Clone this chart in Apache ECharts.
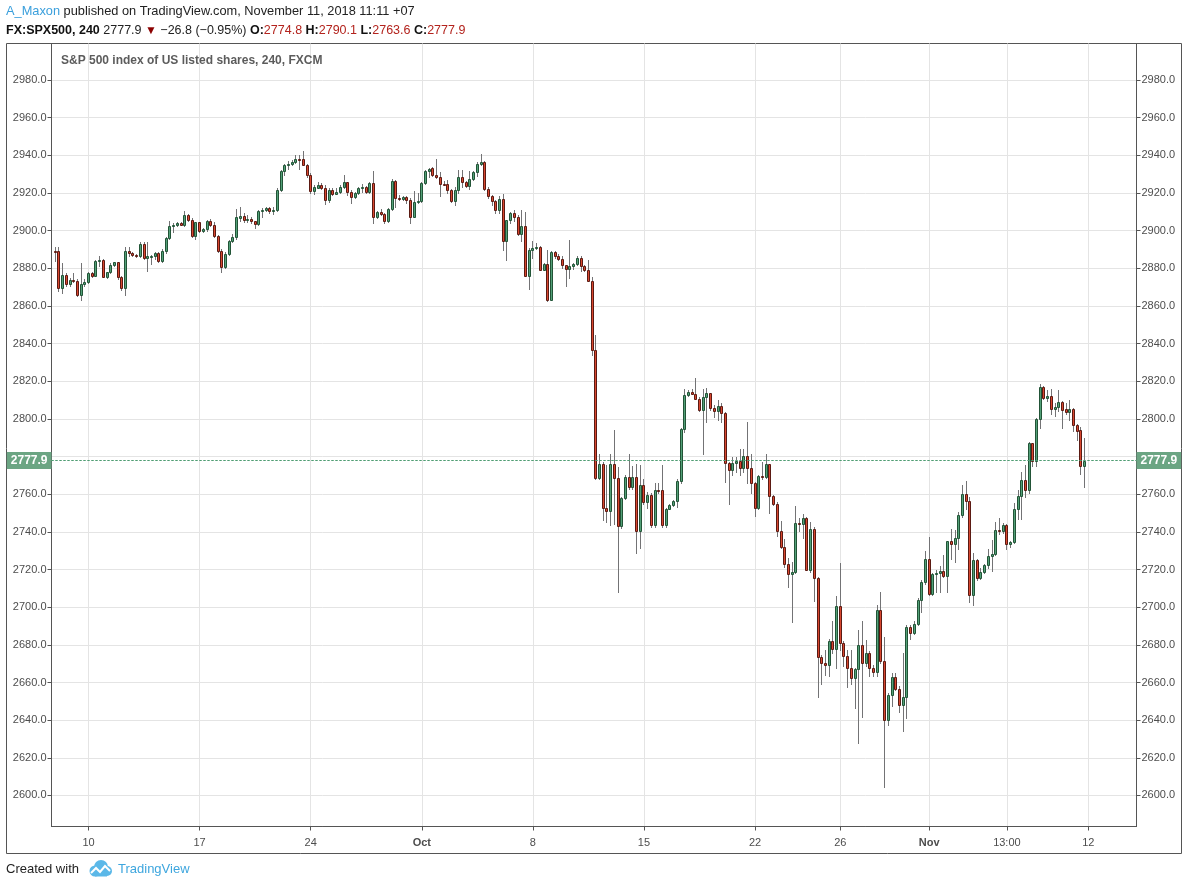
<!DOCTYPE html>
<html lang="en">
<head>
<meta charset="utf-8">
<title>FX:SPX500, 240</title>
<script src="https://cdn.jsdelivr.net/npm/echarts@6/dist/echarts.min.js"></script>
<style>
  html, body { margin: 0; padding: 0; background: #fff; }
  #chart { width: 1188px; height: 887px; }
</style>
</head>
<body>
<div id="chart"></div>
<script>
// 240 min bars, bar 1 .. 279 (Sep 7 -> Nov 9, 2018)
var opens = [
  2889.2, 2889.0, 2869.4, 2876.5, 2871.5, 2873.8, 2873.1, 2866.0, 2871.5, 2872.6,
  2877.5, 2876.1, 2883.9, 2884.4, 2875.6, 2877.9, 2881.8, 2883.2, 2875.6, 2869.4,
  2889.0, 2888.0, 2887.3, 2886.4, 2892.7, 2885.5, 2886.4, 2886.7, 2888.0, 2883.7,
  2889.4, 2895.9, 2902.3, 2903.0, 2904.1, 2903.2, 2908.3, 2905.8, 2897.3, 2904.4,
  2900.0, 2900.7, 2905.3, 2903.0, 2897.3, 2889.4, 2880.9, 2887.6, 2894.5, 2896.6,
  2906.9, 2907.6, 2905.6, 2906.1, 2904.9, 2903.5, 2910.5, 2911.1, 2911.8, 2910.2,
  2910.9, 2921.6, 2931.6, 2934.7, 2935.6, 2936.5, 2937.9, 2937.9, 2935.1, 2929.8,
  2921.2, 2922.8, 2924.0, 2922.8, 2916.3, 2921.4, 2919.6, 2920.5, 2923.2, 2925.6,
  2920.4, 2917.7, 2919.8, 2922.8, 2923.2, 2920.7, 2925.3, 2907.0, 2909.8, 2908.8,
  2904.9, 2911.4, 2926.3, 2917.2, 2916.8, 2917.7, 2916.1, 2907.5, 2915.1, 2915.8,
  2925.3, 2931.6, 2933.3, 2929.4, 2928.3, 2925.0, 2924.6, 2921.8, 2915.6, 2921.8,
  2928.3, 2925.7, 2923.5, 2927.6, 2931.2, 2935.4, 2936.3, 2922.3, 2918.2, 2915.6,
  2911.2, 2917.0, 2894.3, 2905.5, 2909.4, 2907.1, 2898.4, 2902.3, 2876.1, 2889.6,
  2890.8, 2891.3, 2879.3, 2882.3, 2863.4, 2888.7, 2886.4, 2885.1, 2881.6, 2879.8,
  2881.1, 2882.3, 2885.5, 2881.1, 2879.3, 2873.5, 2836.5, 2768.7, 2776.3, 2752.7,
  2751.2, 2775.8, 2768.7, 2743.2, 2758.2, 2769.2, 2763.9, 2769.2, 2740.5, 2765.1,
  2755.9, 2759.8, 2743.5, 2762.5, 2762.1, 2743.5, 2752.4, 2754.5, 2756.3, 2767.1,
  2794.9, 2812.9, 2814.3, 2813.3, 2810.8, 2804.8, 2811.7, 2813.5, 2805.8, 2804.4,
  2806.9, 2803.4, 2776.6, 2773.1, 2776.6, 2777.7, 2774.0, 2780.2, 2774.0, 2765.7,
  2752.7, 2769.7, 2769.4, 2775.8, 2759.1, 2755.0, 2740.5, 2732.2, 2722.8, 2717.5,
  2718.6, 2744.6, 2744.1, 2747.6, 2719.8, 2741.4, 2715.4, 2673.5, 2670.6, 2669.2,
  2681.9, 2677.7, 2700.4, 2680.9, 2673.8, 2667.6, 2662.3, 2667.1, 2680.0, 2670.3,
  2675.6, 2667.6, 2665.5, 2698.6, 2671.2, 2640.2, 2653.5, 2662.8, 2656.5, 2648.0,
  2652.2, 2689.7, 2686.5, 2691.2, 2703.9, 2713.3, 2725.5, 2706.9, 2717.5, 2718.1,
  2719.3, 2716.8, 2734.9, 2733.5, 2736.6, 2749.0, 2760.1, 2756.2, 2706.3, 2725.2,
  2715.7, 2718.7, 2722.6, 2727.1, 2728.4, 2741.1, 2740.7, 2743.7, 2733.3, 2734.5,
  2752.2, 2758.9, 2767.5, 2762.4, 2787.1, 2777.4, 2800.1, 2817.0, 2811.2, 2812.4,
  2805.4, 2806.3, 2809.1, 2805.0, 2803.8, 2805.0, 2796.7, 2793.9, 2774.8
];
var closes = [
  2889.0, 2869.4, 2876.5, 2871.5, 2873.8, 2873.1, 2866.0, 2871.5, 2872.6, 2877.5,
  2876.1, 2883.9, 2884.4, 2875.6, 2877.9, 2881.8, 2883.2, 2875.6, 2869.4, 2889.0,
  2888.0, 2887.3, 2886.4, 2892.7, 2885.5, 2886.4, 2886.7, 2888.0, 2883.7, 2889.4,
  2895.9, 2902.3, 2903.0, 2904.1, 2903.2, 2908.3, 2905.8, 2897.3, 2904.4, 2900.0,
  2900.7, 2905.3, 2903.0, 2897.3, 2889.4, 2880.9, 2887.6, 2894.5, 2896.6, 2907.1,
  2907.6, 2905.6, 2906.1, 2904.9, 2903.5, 2910.5, 2911.1, 2911.8, 2910.2, 2910.9,
  2921.6, 2931.6, 2934.7, 2935.6, 2936.5, 2937.9, 2937.5, 2935.1, 2929.8, 2921.2,
  2923.2, 2924.0, 2922.8, 2916.3, 2921.4, 2919.6, 2920.5, 2923.2, 2925.6, 2920.4,
  2917.7, 2919.8, 2922.8, 2923.2, 2920.7, 2925.3, 2907.0, 2909.8, 2908.8, 2904.9,
  2911.4, 2926.3, 2917.2, 2916.8, 2917.7, 2916.1, 2907.5, 2915.1, 2915.8, 2925.3,
  2931.6, 2933.0, 2929.4, 2928.3, 2925.0, 2924.6, 2921.8, 2915.6, 2921.8, 2928.3,
  2925.7, 2923.5, 2927.6, 2931.2, 2935.4, 2936.3, 2922.3, 2918.2, 2915.6, 2911.2,
  2917.0, 2894.3, 2905.5, 2909.4, 2907.1, 2898.4, 2902.3, 2876.1, 2889.6, 2890.8,
  2891.3, 2879.3, 2882.3, 2863.4, 2888.7, 2886.4, 2885.1, 2881.6, 2879.8, 2881.1,
  2882.3, 2885.5, 2881.1, 2879.3, 2873.5, 2836.5, 2768.7, 2776.3, 2752.7, 2751.2,
  2775.8, 2768.7, 2743.2, 2758.2, 2769.2, 2763.9, 2769.2, 2740.5, 2765.1, 2755.9,
  2759.8, 2743.5, 2762.5, 2762.1, 2743.5, 2752.4, 2754.5, 2756.3, 2767.1, 2794.9,
  2812.9, 2814.3, 2813.3, 2810.8, 2804.8, 2811.7, 2813.5, 2805.8, 2804.4, 2806.9,
  2803.4, 2776.6, 2773.1, 2776.6, 2777.7, 2774.0, 2780.2, 2774.0, 2765.7, 2752.7,
  2769.7, 2769.4, 2775.8, 2759.1, 2755.0, 2740.5, 2732.2, 2722.8, 2717.5, 2718.6,
  2744.6, 2744.1, 2747.6, 2719.8, 2741.4, 2715.4, 2673.5, 2670.3, 2669.2, 2681.9,
  2677.7, 2700.4, 2680.9, 2673.8, 2667.6, 2662.3, 2667.1, 2680.0, 2670.3, 2675.6,
  2667.6, 2665.5, 2698.6, 2671.2, 2640.2, 2653.5, 2662.8, 2656.5, 2648.0, 2652.2,
  2689.7, 2686.5, 2691.2, 2703.9, 2713.3, 2725.5, 2706.9, 2717.5, 2718.1, 2719.3,
  2716.8, 2734.9, 2733.5, 2736.6, 2749.0, 2760.1, 2756.2, 2706.3, 2725.2, 2715.7,
  2718.7, 2722.6, 2727.1, 2728.4, 2741.1, 2740.7, 2743.7, 2733.3, 2734.5, 2752.2,
  2758.9, 2767.5, 2762.4, 2787.1, 2777.4, 2800.1, 2817.0, 2811.2, 2812.4, 2805.4,
  2806.3, 2809.1, 2804.7, 2803.8, 2805.0, 2796.7, 2793.6, 2775.1, 2777.9
];
var lows = [
  2884.1, 2868.2, 2866.7, 2870.5, 2870.5, 2872.6, 2865.5, 2863.4, 2870.5, 2872.2,
  2875.6, 2875.8, 2881.4, 2875.2, 2875.1, 2877.5, 2881.4, 2874.3, 2868.7, 2866.0,
  2886.7, 2886.7, 2886.0, 2885.8, 2885.0, 2878.8, 2882.3, 2885.0, 2883.2, 2883.2,
  2888.0, 2895.6, 2899.1, 2902.3, 2903.0, 2902.7, 2905.3, 2896.5, 2895.6, 2899.5,
  2899.5, 2900.0, 2902.3, 2896.8, 2888.5, 2878.2, 2880.0, 2887.3, 2893.8, 2895.6,
  2904.9, 2904.6, 2904.6, 2904.0, 2901.4, 2903.2, 2907.5, 2910.2, 2909.6, 2908.8,
  2910.2, 2921.1, 2929.5, 2933.0, 2935.1, 2936.1, 2933.0, 2934.7, 2928.6, 2919.8,
  2919.3, 2922.5, 2922.2, 2914.0, 2915.4, 2918.9, 2919.3, 2920.1, 2922.8, 2918.9,
  2914.6, 2917.2, 2919.3, 2920.7, 2919.8, 2919.8, 2904.0, 2906.7, 2908.4, 2904.0,
  2904.6, 2911.1, 2912.8, 2916.3, 2916.3, 2914.6, 2904.0, 2907.0, 2914.6, 2915.1,
  2924.6, 2928.6, 2928.8, 2928.0, 2918.6, 2924.1, 2920.0, 2915.0, 2913.8, 2920.0,
  2923.0, 2923.0, 2922.3, 2927.1, 2928.8, 2935.0, 2921.8, 2917.3, 2913.8, 2909.4,
  2909.4, 2889.9, 2884.2, 2904.1, 2905.0, 2897.9, 2894.3, 2875.8, 2869.2, 2885.5,
  2890.4, 2878.9, 2878.9, 2862.8, 2863.0, 2885.5, 2884.4, 2880.2, 2870.4, 2874.9,
  2879.8, 2881.9, 2878.4, 2878.4, 2873.1, 2833.8, 2768.0, 2768.0, 2746.2, 2745.3,
  2743.9, 2744.4, 2708.1, 2742.1, 2757.3, 2763.0, 2763.0, 2729.0, 2731.5, 2755.0,
  2752.7, 2742.7, 2742.7, 2760.4, 2742.7, 2742.7, 2752.0, 2753.8, 2753.3, 2766.2,
  2793.1, 2812.2, 2813.0, 2810.4, 2804.1, 2781.1, 2798.1, 2804.6, 2801.1, 2799.3,
  2798.4, 2766.5, 2755.0, 2770.4, 2772.0, 2770.4, 2771.9, 2765.7, 2760.4, 2748.3,
  2752.0, 2768.3, 2768.7, 2750.1, 2754.2, 2737.9, 2731.3, 2721.2, 2710.6, 2691.9,
  2718.1, 2740.2, 2736.6, 2719.5, 2718.9, 2703.5, 2652.2, 2659.3, 2664.1, 2663.7,
  2675.6, 2667.6, 2677.3, 2668.5, 2657.5, 2659.3, 2646.4, 2627.8, 2641.6, 2668.5,
  2663.2, 2663.2, 2663.2, 2670.6, 2604.4, 2637.2, 2647.6, 2655.8, 2644.1, 2634.0,
  2641.1, 2683.0, 2685.8, 2690.6, 2697.2, 2712.4, 2706.5, 2706.5, 2707.8, 2707.8,
  2715.9, 2708.3, 2725.7, 2724.0, 2731.0, 2748.1, 2752.2, 2702.5, 2701.1, 2714.6,
  2715.2, 2718.1, 2721.0, 2719.2, 2727.5, 2739.0, 2739.3, 2731.0, 2731.9, 2734.2,
  2746.9, 2746.9, 2758.7, 2760.4, 2775.1, 2775.1, 2795.3, 2810.8, 2809.4, 2802.7,
  2801.5, 2804.0, 2795.0, 2802.4, 2799.2, 2793.6, 2788.6, 2770.7, 2763.6
];
var highs = [
  2891.2, 2891.2, 2882.8, 2877.5, 2875.1, 2877.5, 2874.3, 2882.8, 2874.3, 2878.2,
  2878.2, 2884.4, 2886.7, 2885.0, 2878.2, 2882.8, 2883.5, 2883.5, 2876.1, 2891.2,
  2891.5, 2888.5, 2887.6, 2894.2, 2893.8, 2893.8, 2886.9, 2888.5, 2888.5, 2890.3,
  2896.5, 2905.3, 2903.9, 2904.4, 2904.4, 2910.3, 2908.8, 2906.7, 2904.8, 2904.8,
  2901.2, 2905.7, 2906.2, 2904.4, 2897.7, 2890.3, 2888.5, 2895.2, 2898.2, 2911.5,
  2912.8, 2909.3, 2908.4, 2907.2, 2905.3, 2911.1, 2911.9, 2912.8, 2912.8, 2912.3,
  2922.5, 2932.1, 2935.6, 2936.8, 2937.4, 2940.0, 2940.0, 2942.1, 2935.6, 2930.4,
  2924.2, 2925.6, 2925.1, 2924.0, 2922.5, 2922.5, 2922.5, 2924.2, 2929.5, 2926.0,
  2921.6, 2920.7, 2923.3, 2924.6, 2923.9, 2925.6, 2931.6, 2910.2, 2911.6, 2909.3,
  2911.9, 2927.4, 2926.7, 2918.9, 2918.4, 2918.6, 2917.2, 2921.1, 2919.8, 2925.8,
  2932.1, 2933.3, 2933.8, 2938.1, 2931.2, 2926.2, 2927.1, 2922.3, 2923.0, 2932.4,
  2932.4, 2926.5, 2931.5, 2931.9, 2936.3, 2940.9, 2936.8, 2923.0, 2919.1, 2916.5,
  2918.2, 2919.6, 2905.8, 2909.9, 2911.2, 2908.5, 2911.2, 2909.9, 2890.8, 2894.3,
  2893.5, 2891.7, 2882.8, 2889.9, 2889.0, 2889.0, 2887.6, 2886.4, 2881.9, 2895.2,
  2882.8, 2886.4, 2886.4, 2881.9, 2884.6, 2875.2, 2844.4, 2781.1, 2777.2, 2775.4,
  2781.6, 2794.3, 2774.5, 2758.6, 2770.1, 2781.6, 2775.0, 2775.8, 2775.4, 2768.3,
  2761.2, 2760.4, 2766.0, 2766.0, 2775.4, 2752.7, 2755.0, 2757.0, 2768.0, 2795.2,
  2815.8, 2815.2, 2816.1, 2821.8, 2811.7, 2816.1, 2816.6, 2814.0, 2807.3, 2810.3,
  2808.7, 2803.7, 2777.2, 2779.8, 2779.8, 2783.9, 2784.2, 2798.1, 2781.6, 2766.5,
  2770.1, 2777.2, 2781.1, 2776.3, 2759.8, 2755.9, 2746.0, 2736.1, 2726.0, 2724.2,
  2753.8, 2747.3, 2749.6, 2748.1, 2745.5, 2742.5, 2715.8, 2674.7, 2677.0, 2683.0,
  2692.4, 2706.0, 2723.4, 2681.8, 2677.0, 2677.3, 2667.6, 2688.0, 2692.9, 2682.7,
  2676.5, 2669.2, 2701.2, 2707.8, 2684.4, 2654.3, 2665.0, 2665.0, 2657.9, 2675.9,
  2690.6, 2690.6, 2692.9, 2704.8, 2714.5, 2730.1, 2737.5, 2718.1, 2719.5, 2721.9,
  2727.8, 2735.4, 2741.4, 2741.1, 2750.4, 2764.8, 2766.8, 2758.3, 2728.7, 2725.7,
  2721.0, 2723.1, 2731.0, 2735.8, 2745.1, 2747.4, 2744.8, 2744.2, 2735.1, 2755.2,
  2762.2, 2771.9, 2775.6, 2787.8, 2787.4, 2800.6, 2818.6, 2817.4, 2815.6, 2816.1,
  2808.5, 2815.1, 2809.4, 2808.5, 2810.3, 2805.9, 2797.4, 2795.7, 2790.1
];

// time axis labels: bar slot -> text
var tickSlots = [10, 40, 70, 100, 130, 160, 190, 213, 237, 258, 280];
var tickTexts = ['10', '17', '24', 'Oct', '8', '15', '22', '26', 'Nov', '13:00', '12'];
var slotCount = 294; // slot 0 and slots after bar 279 stay empty

// price axis labels
var priceTicks = [2600, 2620, 2640, 2660, 2680, 2700, 2720, 2740, 2760, 2780,
                  2800, 2820, 2840, 2860, 2880, 2900, 2920, 2940, 2960, 2980];

var UP = '#53a078', UP_BORDER = '#225437';
var DOWN = '#d8472f', DOWN_BORDER = '#5b1a13';
var WICK = '#737375';
var FONT = '"Liberation Sans", Arial, sans-serif';

var slots = [];
for (var s = 0; s < slotCount; s++) slots.push(String(s));

var tickMap = {};
tickSlots.forEach(function (slot, k) { tickMap[slot] = tickTexts[k]; });

var bars = opens.map(function (o, k) {
  return [k + 1, o, closes[k], lows[k], highs[k]];
});
var n = opens.length - 1;
var lastPrice = closes[n];

function showTick(index) { return tickMap[index] !== undefined; }

// one candle: grey wick + bordered body, snapped to whole pixels
function renderCandle(params, api) {
  var x = api.value(0);
  var o = api.value(1), c = api.value(2), lo = api.value(3), hi = api.value(4);
  var pO = api.coord([x, o]);
  var px = Math.floor(pO[0]);
  var yC = api.coord([x, c])[1];
  var yL = api.coord([x, lo])[1];
  var yH = api.coord([x, hi])[1];
  var up = c >= o;
  var top = Math.round(Math.min(pO[1], yC)) + 0.5;
  var bot = Math.round(Math.max(pO[1], yC)) + 0.5;
  return {
    type: 'group',
    children: [
      { type: 'line', shape: { x1: px + 0.5, y1: Math.round(yH), x2: px + 0.5, y2: Math.round(yL) + 1 },
        style: { stroke: WICK, lineWidth: 1 } },
      { type: 'rect', shape: { x: px - 0.5, y: top, width: 2, height: Math.max(bot - top, 1) },
        style: { fill: up ? UP : DOWN, stroke: up ? UP_BORDER : DOWN_BORDER, lineWidth: 1 } }
    ]
  };
}

var priceLabel = {
  show: true,
  formatter: function () { return lastPrice.toFixed(1); },
  backgroundColor: '#6ba583',
  color: '#fff',
  fontWeight: 'bold',
  fontSize: 12,
  fontFamily: FONT,
  lineHeight: 13,
  padding: [2, 4, 2, 4],
  distance: 0
};

function yAxisFor(pos) {
  return {
    type: 'value',
    position: pos,
    min: 2583.5,
    max: 2999.4,
    splitNumber: 20,
    minInterval: 20,
    maxInterval: 20,
    axisLine: { show: true, lineStyle: { color: '#555' } },
    axisTick: { show: true, length: 4, customValues: priceTicks, lineStyle: { color: '#555' } },
    axisLabel: {
      margin: 5,
      color: '#4d4d4d',
      fontSize: 11,
      fontFamily: FONT,
      customValues: priceTicks,
      formatter: function (v) {
        return Math.abs(v % 20) < 1e-6 && v >= 2600 && v <= 2980 ? v.toFixed(1) : '';
      }
    },
    splitLine: { show: pos === 'left', lineStyle: { color: '#e4e4e4' } }
  };
}

var chart = echarts.init(document.getElementById('chart'));
chart.setOption({
  animation: false,
  backgroundColor: '#fff',
  textStyle: { fontFamily: FONT },
  title: [
    {
      left: 6, top: 5, padding: 0,
      text: '{a|A_Maxon} published on TradingView.com, November 11, 2018 11:11 +07',
      textStyle: {
        fontSize: 12.8, fontWeight: 'normal', color: '#222', fontFamily: FONT,
        rich: { a: { color: '#3a9fdc', fontSize: 12.8, fontFamily: FONT } }
      }
    },
    {
      left: 6, top: 24, padding: 0,
      text: '{b|FX:SPX500, 240} ' + lastPrice.toFixed(1) + ' {t|▼} \u221226.8 (\u22120.95%) ' +
            '{b|O:}{r|' + opens[n].toFixed(1) + '} {b|H:}{r|' + highs[n].toFixed(1) + '} ' +
            '{b|L:}{r|' + lows[n].toFixed(1) + '} {b|C:}{r|' + closes[n].toFixed(1) + '}',
      textStyle: {
        fontSize: 12.5, fontWeight: 'normal', color: '#222', fontFamily: FONT,
        rich: {
          b: { fontWeight: 'bold', color: '#111', fontSize: 12.5, fontFamily: FONT },
          r: { color: '#b3231d', fontSize: 12.5, fontFamily: FONT },
          t: { color: '#8b0000', fontSize: 12, fontFamily: FONT }
        }
      }
    },
    {
      left: 61, top: 55, padding: 0,
      text: 'S&P 500 index of US listed shares, 240, FXCM',
      textStyle: { fontSize: 12, fontWeight: 'bold', color: '#5c5c5c', fontFamily: FONT }
    },
    {
      left: 6, top: 863, padding: 0,
      text: 'Created with',
      textStyle: { fontSize: 13, fontWeight: 'normal', color: '#222', fontFamily: FONT }
    },
    {
      left: 118, top: 863, padding: 0,
      text: 'TradingView',
      textStyle: { fontSize: 13, fontWeight: 'normal', color: '#3ea6de', fontFamily: FONT }
    }
  ],
  graphic: [
    // outer frame
    { type: 'rect', shape: { x: 6.5, y: 43.5, width: 1175, height: 810 },
      style: { fill: 'none', stroke: '#555', lineWidth: 1 }, silent: true },
    // TradingView cloud logo
    {
      type: 'group', x: 88, y: 860, silent: true,
      children: [
        { type: 'circle', shape: { cx: 7, cy: 11, r: 5.5 }, style: { fill: '#5bb8e8' } },
        { type: 'circle', shape: { cx: 13, cy: 7, r: 7 }, style: { fill: '#5bb8e8' } },
        { type: 'circle', shape: { cx: 19, cy: 11, r: 5 }, style: { fill: '#5bb8e8' } },
        { type: 'rect', shape: { x: 7, y: 10, width: 12, height: 6.5 }, style: { fill: '#5bb8e8' } },
        { type: 'polyline', shape: { points: [[3, 13], [8, 8], [12, 12], [17, 6], [22, 11]] },
          style: { stroke: '#fff', lineWidth: 2, fill: 'none' } }
      ]
    }
  ],
  grid: {
    left: 51.5, right: 51.5, top: 43.5, bottom: 60.5,
    show: true, borderColor: '#555', borderWidth: 1
  },
  xAxis: {
    type: 'category',
    data: slots,
    boundaryGap: false,
    axisLine: { show: true, lineStyle: { color: '#555' } },
    axisTick: { show: true, interval: showTick, length: 4, lineStyle: { color: '#555' } },
    axisLabel: {
      interval: showTick,
      margin: 11,
      color: '#4d4d4d',
      fontSize: 11,
      fontFamily: FONT,
      formatter: function (value, index) {
        var t = tickMap[index];
        if (t === undefined) return '';
        return (t === 'Oct' || t === 'Nov') ? '{m|' + t + '}' : t;
      },
      rich: { m: { fontWeight: 'bold', fontSize: 11, color: '#4d4d4d', fontFamily: FONT } }
    },
    splitLine: { show: true, interval: showTick, lineStyle: { color: '#e4e4e4' } }
  },
  yAxis: [yAxisFor('left'), yAxisFor('right')],
  series: [
    {
      type: 'custom',
      xAxisIndex: 0,
      yAxisIndex: 0,
      data: bars,
      encode: { x: 0, y: [1, 2, 3, 4] },
      renderItem: renderCandle,
      clip: true,
      silent: true,
      z: 3,
      markLine: {
        silent: true,
        symbol: ['none', 'none'],
        animation: false,
        lineStyle: { color: '#4f9d73', width: 1, type: [2, 2] },
        data: [
          { yAxis: lastPrice, label: Object.assign({ position: 'start' }, priceLabel) },
          { yAxis: lastPrice, label: Object.assign({ position: 'end' }, priceLabel) }
        ]
      }
    }
  ]
});
</script>
</body>
</html>
